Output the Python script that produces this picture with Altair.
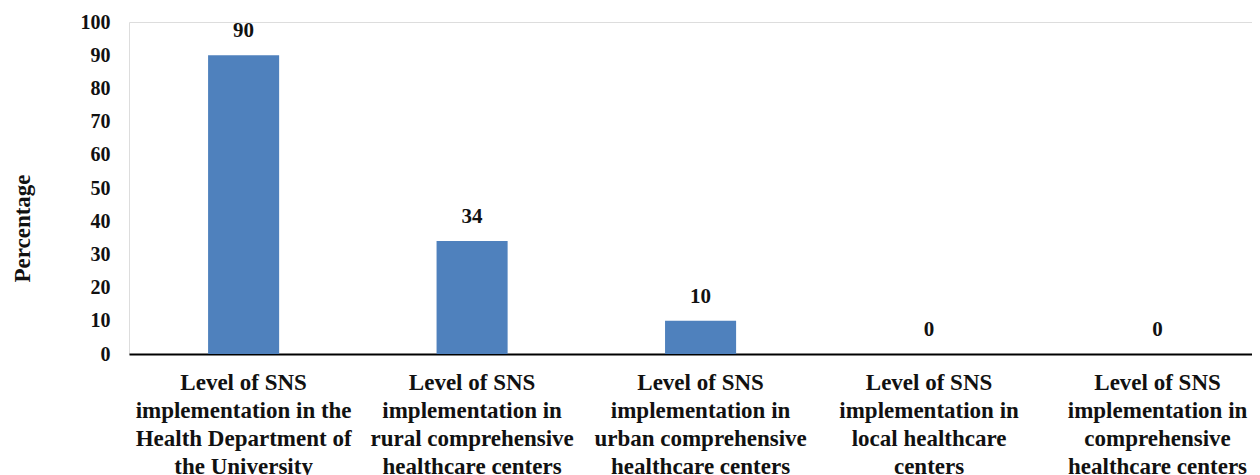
import altair as alt
import pandas as pd

categories = [
    "Level of SNS|implementation in the|Health Department of|the University",
    "Level of SNS|implementation in|rural comprehensive|healthcare centers",
    "Level of SNS|implementation in|urban comprehensive|healthcare centers",
    "Level of SNS|implementation in|local healthcare|centers",
    "Level of SNS|implementation in|comprehensive|healthcare centers",
]
values = [90, 34, 10, 0, 0]
y_ticks = list(range(0, 101, 10))

df = pd.DataFrame({"cat": categories, "val": values})
FONT = "Liberation Serif"

x = alt.X(
    "cat:N",
    sort=categories,
    scale=alt.Scale(paddingInner=0.689, paddingOuter=0.302, align=0.573),
    axis=alt.Axis(
        title=None,
        labelExpr="split(datum.label, '|')",
        labelAngle=0,
        labelFont=FONT,
        labelFontSize=23,
        labelFontWeight="bold",
        labelColor="#111111",
        labelLineHeight=28,
        labelPadding=17,
        labelLimit=0,
        labelOverlap=False,
        ticks=False,
        domainColor="#000000",
        domainWidth=2,
    ),
)

y = alt.Y(
    "val:Q",
    scale=alt.Scale(domain=[0, 100]),
    axis=alt.Axis(
        title="Percentage",
        values=y_ticks,
        grid=False,
        ticks=False,
        domain=False,
        labelOverlap=False,
        labelFont=FONT,
        labelFontSize=20,
        labelFontWeight="bold",
        labelColor="#111111",
        labelPadding=19,
        titleFont=FONT,
        titleFontSize=23,
        titleFontWeight="bold",
        titleColor="#111111",
        titleAngle=-90,
        titleAlign="center",
        titleBaseline="middle",
        titleX=-107,
        titleY=206,
    ),
)

base = alt.Chart(df).encode(x=x, y=y)
bars = base.mark_bar(color="#4F81BD")
labels = base.mark_text(
    baseline="bottom", dy=-14, font=FONT, fontSize=21, fontWeight="bold", color="#111111"
).encode(text="val:Q")

chart = (
    alt.layer(bars, labels)
    .properties(
        width=1123,
        height=332,
        autosize=alt.AutoSizeParams(type="none"),
        padding={"left": 121, "top": 14, "right": 0, "bottom": 130},
    )
    .configure_view(stroke=None)
    .configure(background="white")
)

chart.save("out.html", embed_options={"renderer": "svg", "actions": False})
